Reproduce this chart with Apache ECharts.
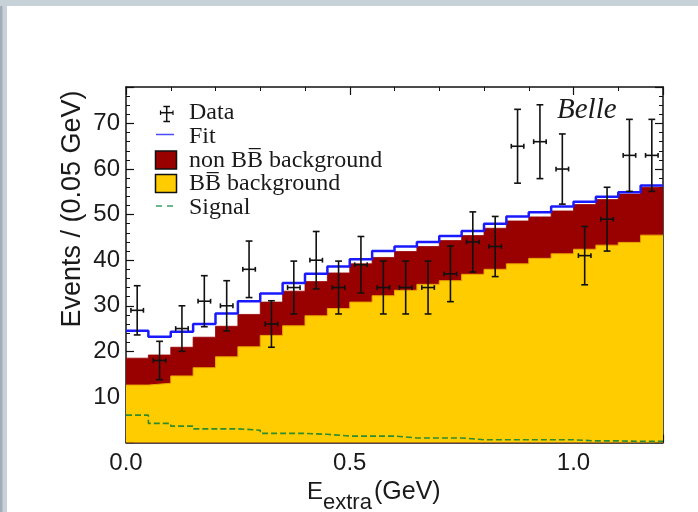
<!DOCTYPE html>
<html><head><meta charset="utf-8">
<script src="https://cdn.jsdelivr.net/npm/echarts@6/dist/echarts.min.js"></script>
<style>html,body{margin:0;padding:0;background:#fff}#c{width:698px;height:512px}</style>
</head><body><div id="c"></div>
<script>
// Bin edges (GeV), 0.05 GeV bins
const binEdges = [0,0.05,0.10,0.15,0.20,0.25,0.30,0.35,0.40,0.45,0.50,0.55,0.60,0.65,0.70,0.75,0.80,0.85,0.90,0.95,1.00,1.05,1.10,1.15,1.20];
// Observed data (events per bin) and their errors
const dataCounts = [29,18,25,31,30,38,26,34,40,34,39,34,34,34,37,44,43,65,66,60,41,49,63,63];
const dataErrors = [5.4,4.2,5.0,5.6,5.5,6.2,5.1,5.8,6.3,5.8,6.2,5.8,5.8,5.8,6.1,6.6,6.6,8.1,8.1,7.7,6.4,7.0,7.9,7.9];
// Fit components
const fitTotal = [24.5,23.2,24.3,26.0,28.3,31.0,32.7,35.0,37.0,38.6,40.2,42.0,43.0,44.0,45.3,46.4,48.0,49.6,50.5,51.8,52.8,53.9,54.9,56.4];
const bbBackground = [12.6,13.0,14.6,16.4,18.8,21.0,23.5,25.6,27.8,29.4,30.8,32.2,33.4,34.7,35.5,36.9,38.0,39.2,40.4,41.4,42.4,43.3,43.9,45.5];
const nonBBBackground = [5.9,6.2,6.3,6.7,6.7,7.1,7.3,7.6,7.5,7.8,8.4,8.4,8.5,8.3,8.8,8.5,9.0,9.4,9.1,9.4,9.8,10.0,10.6,10.5];
const signal = [6.0,4.2,3.6,3.0,3.0,2.7,2.0,2.0,1.8,1.4,1.4,1.4,1.0,1.0,1.0,0.6,0.6,0.6,0.6,0.6,0.35,0.35,0.25,0.25];
const xHalfWidth = 0.014;

function stepData(vals){
  const d = vals.map((v,i)=>[binEdges[i], v]);
  d.push([binEdges[vals.length], vals[vals.length-1]]);
  return d;
}
// stacked top of the two background components
const bgStackTop = bbBackground.map((v,i)=>v + nonBBBackground[i]);
const pointData = dataCounts.map((v,i)=>[(binEdges[i]+binEdges[i+1])/2, v, dataErrors[i]]);

const SANS = 'Liberation Sans';
const SERIF = 'Liberation Serif';
const INK = '#1a1a1a';

function xAxisCfg(pos, labels){
  return {
    type:'value', min:0, max:1.2, interval:0.5, position:pos,
    axisLine:{show:true, onZero:false, lineStyle:{color:'#111', width:1.5}},
    axisTick:{show:true, inside:true, length:8, lineStyle:{color:'#111', width:1.2}},
    minorTick:{show:true, splitNumber:5, length:4, lineStyle:{color:'#111', width:1}},
    axisLabel:{show:labels, margin:9, showMaxLabel:false, formatter:v=>v.toFixed(1),
      fontSize:24, fontFamily:SANS, color:INK},
    splitLine:{show:false}, minorSplitLine:{show:false}
  };
}
function yAxisCfg(pos, labels){
  return {
    type:'value', min:0, max:78, interval:10, position:pos,
    axisLine:{show:true, onZero:false, lineStyle:{color:'#111', width:1.5}},
    axisTick:{show:true, inside:true, length:8, lineStyle:{color:'#111', width:1.2}},
    minorTick:{show:true, splitNumber:5, length:4, lineStyle:{color:'#111', width:1}},
    axisLabel:{show:labels, margin:6, showMaxLabel:false, formatter:v=>v===0?'':String(v),
      fontSize:24, fontFamily:SANS, color:INK},
    splitLine:{show:false}, minorSplitLine:{show:false}
  };
}

const legendX = 155.5;
const gfx = [
  {type:'rect', shape:{x:0,y:0,width:698,height:6}, style:{fill:'#c7d1d8'}, z:100},
  {type:'rect', shape:{x:0,y:0,width:7,height:512}, style:{fill:'#c7d1d8'}, z:100},
  {type:'rect', shape:{x:0,y:6,width:2.5,height:506}, style:{fill:'#a3adb5'}, z:101},
  // legend: Data
  {type:'line', shape:{x1:166.7,y1:106.5,x2:166.7,y2:121.5}, style:{stroke:'#111',lineWidth:1.5}, z:100},
  {type:'line', shape:{x1:163.4,y1:106.5,x2:170,y2:106.5}, style:{stroke:'#111',lineWidth:1.5}, z:100},
  {type:'line', shape:{x1:163.4,y1:121.5,x2:170,y2:121.5}, style:{stroke:'#111',lineWidth:1.5}, z:100},
  {type:'line', shape:{x1:160.5,y1:112.7,x2:173,y2:112.7}, style:{stroke:'#111',lineWidth:1.5}, z:100},
  {type:'line', shape:{x1:160.5,y1:110.5,x2:160.5,y2:115},  style:{stroke:'#111',lineWidth:1.2}, z:100},
  {type:'line', shape:{x1:173,y1:110.5,x2:173,y2:115},  style:{stroke:'#111',lineWidth:1.2}, z:100},
  // Fit
  {type:'line', shape:{x1:156,y1:134.5,x2:174,y2:134.5}, style:{stroke:'#4a4aff',lineWidth:1.5}, z:100},
  // non BB
  {type:'rect', shape:{x:legendX,y:151,width:21,height:18}, style:{fill:'#990000',stroke:'#111',lineWidth:1.5}, z:100},
  // BB
  {type:'rect', shape:{x:legendX,y:174.5,width:21,height:18}, style:{fill:'#ffcc00',stroke:'#111',lineWidth:1.5}, z:100},
  // Signal
  {type:'line', shape:{x1:156,y1:206,x2:174,y2:206}, style:{stroke:'#3aa36a',lineWidth:1.5,lineDash:[6,5]}, z:100},
];
const legendTexts = [['Data',113],['Fit',136.5],['non BB\u0305 background',160.5],['BB\u0305 background',184],['Signal',208]];
legendTexts.forEach(([t,y])=>gfx.push({type:'text', x:189, y:y, z:100,
  style:{text:t, fontSize:24, fontFamily:SERIF, fill:INK, textAlign:'left', textVerticalAlign:'middle'}}));
gfx.push({type:'text', x:557, y:110, z:100,
  style:{text:'Belle', fontSize:29, fontStyle:'italic', fontFamily:SERIF, fill:INK, textAlign:'left', textVerticalAlign:'middle'}});
// axis titles
gfx.push({type:'text', x:72.5, y:209, rotation:Math.PI/2, z:100,
  style:{text:'Events / (0.05 GeV)', fontSize:27, fontFamily:SANS, fill:INK, textAlign:'center', textVerticalAlign:'middle'}});
gfx.push({type:'text', x:307, y:492, z:100,
  style:{text:'E', fontSize:24, fontFamily:SANS, fill:INK, textAlign:'left', textVerticalAlign:'middle'}});
gfx.push({type:'text', x:323, y:502.5, z:100,
  style:{text:'extra', fontSize:22, fontFamily:SANS, fill:INK, textAlign:'left', textVerticalAlign:'middle'}});
gfx.push({type:'text', x:374, y:492, z:100,
  style:{text:'(GeV)', fontSize:25, fontFamily:SANS, fill:INK, textAlign:'left', textVerticalAlign:'middle'}});

const chart = echarts.init(document.getElementById('c'), null, {renderer:'canvas'});
chart.setOption({
  animation:false,
  backgroundColor:'#ffffff',
  grid:{left:126, right:35, top:87, bottom:69.5, containLabel:false, outerBoundsMode:'none'},
  xAxis:[xAxisCfg('bottom', true), xAxisCfg('top', false)],
  yAxis:[yAxisCfg('left', true), yAxisCfg('right', false)],
  graphic:{elements:gfx},
  series:[
    {name:'non BB background', type:'line', step:'end', symbol:'none', z:2,
     data:stepData(bgStackTop), lineStyle:{width:0.8, color:'#990000'}, areaStyle:{color:'#990000', opacity:1}},
    {name:'BB background', type:'line', step:'end', symbol:'none', z:3,
     data:stepData(bbBackground), lineStyle:{width:1, color:'#e9a400'}, areaStyle:{color:'#ffcc00', opacity:1}},
    {name:'Signal', type:'line', step:'end', symbol:'none', z:4,
     data:stepData(signal), lineStyle:{width:1.6, color:'#2e8b2e', type:[6,3]}},
    {name:'Fit', type:'line', step:'end', symbol:'none', z:5,
     data:stepData(fitTotal), lineStyle:{width:2.5, color:'#1a1aff'}},
    {name:'Data', type:'custom', z:6, data:pointData,
     renderItem:function(params, api){
       const x = api.value(0), y = api.value(1), e = api.value(2);
       const top = api.coord([x, y+e]), bot = api.coord([x, y-e]);
       const l = api.coord([x-xHalfWidth, y]), r = api.coord([x+xHalfWidth, y]);
       const st = {stroke:'#111', lineWidth:1.6};
       const cap = 3.4, hcap = 2.4;
       return {type:'group', children:[
         {type:'line', shape:{x1:top[0],y1:top[1],x2:bot[0],y2:bot[1]}, style:st},
         {type:'line', shape:{x1:top[0]-cap,y1:top[1],x2:top[0]+cap,y2:top[1]}, style:st},
         {type:'line', shape:{x1:bot[0]-cap,y1:bot[1],x2:bot[0]+cap,y2:bot[1]}, style:st},
         {type:'line', shape:{x1:l[0],y1:l[1],x2:r[0],y2:r[1]}, style:st},
         {type:'line', shape:{x1:l[0],y1:l[1]-hcap,x2:l[0],y2:l[1]+hcap}, style:st},
         {type:'line', shape:{x1:r[0],y1:r[1]-hcap,x2:r[0],y2:r[1]+hcap}, style:st}
       ]};
     }}
  ]
});
</script></body></html>
